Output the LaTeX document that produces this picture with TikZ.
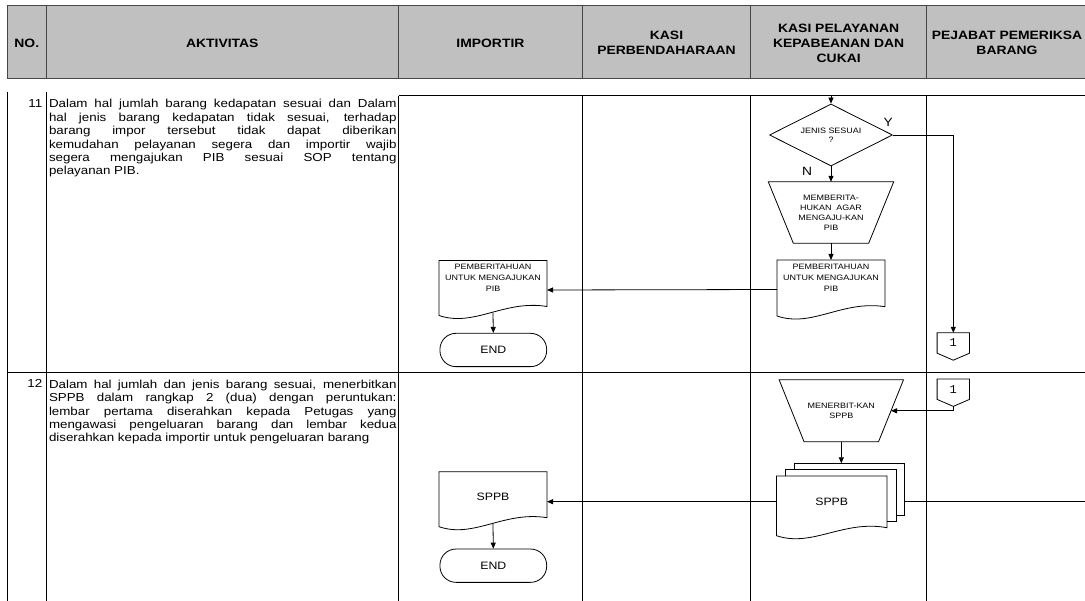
\documentclass[tikz,border=0pt]{standalone}
\usepackage{fontspec}
\setmainfont{Liberation Sans}[FakeStretch=1.15]
\newfontfamily\connfont{Liberation Mono}
\usetikzlibrary{shapes.geometric,arrows.meta,calc,positioning}
\definecolor{headgray}{RGB}{192,192,192}
\definecolor{gridgray}{RGB}{70,70,70}
\tikzset{
    headtext/.style={align=center, font=\fontsize{12.1}{15}\selectfont\bfseries, inner sep=0pt},
    bodytext/.style={anchor=north west, text width=347.5pt, align=justify, font=\fontsize{11.6}{13.4}\selectfont, inner sep=0pt},
    numtext/.style={anchor=north east, font=\fontsize{11.6}{13.4}\selectfont, inner sep=0pt},
    decision/.style={diamond, draw, line width=0.8pt, aspect=2, minimum width=123pt, minimum height=62pt, inner sep=0pt, align=center, font=\fontsize{7.8}{9}\selectfont},
    opbox/.style={minimum width=125pt, minimum height=61pt, inner sep=0pt, align=center, font=\fontsize{7.8}{10}\selectfont},
    doctext/.style={anchor=north, minimum width=107.6pt, inner xsep=0pt, inner ysep=3.5pt, align=center, font=\fontsize{7.8}{11}\selectfont},
    endbox/.style={draw, line width=0.8pt, rounded corners=16pt, minimum width=106.7pt, minimum height=33.3pt, font=\fontsize{10.7}{12}\selectfont},
    conn/.style={minimum width=32pt, minimum height=20pt, inner sep=0pt, font=\connfont\fontsize{12}{12}\selectfont},
    shapeline/.style={draw, line width=0.8pt},
    gridline/.style={line width=1pt},
    arr/.style={-{Triangle[length=6pt,width=5pt]}, line width=0.8pt},
    yn/.style={font=\fontsize{12}{12}\selectfont, inner sep=0pt}
}
% document outline: node, height, rise of right corner
\newcommand{\docframe}[3]{%
  \path[shapeline] (#1.north west) -- (#1.north east) -- ($(#1.north east)+(0,#2-#3)$)
    .. controls ($(#1.north west)!0.604!(#1.north east)+(0,#2-16)$) and ($(#1.north west)!0.325!(#1.north east)+(0,#2+12)$) .. ($(#1.north west)+(0,#2)$) -- cycle;
}
% manual operation outline, narrow at the bottom
\newcommand{\opframe}[1]{%
  \path[shapeline] (#1.north west) -- (#1.north east) -- ($(#1.south east)+(-25,0)$) -- ($(#1.south west)+(25,0)$) -- cycle;
  \coordinate (#1-e) at ($(#1.east)+(-12.5,0)$);
}
% off-page connector outline
\newcommand{\offpage}[1]{%
  \path[shapeline] (#1.north west) -- (#1.north east) -- (#1.south east) -- ($(#1.south)+(0,7)$) coordinate (#1-tip) -- (#1.south west) -- cycle;
}
\begin{document}
\begin{tikzpicture}[x=1pt, y=-1pt]
\useasboundingbox (0,0) rectangle (1085,601);
\clip (0,0) rectangle (1085,601);

% header
\draw[fill=headgray, draw=gridgray, gridline] (7.5,6) rectangle (1095,79);
\foreach \x in {46,398.5,582.3,750.7,926.7}
  \draw[gridgray, gridline] (\x,6) -- (\x,79);
\node[headtext] (hNo) at (26.75,43) {NO.};
\node[headtext] (hAkt) at (222.3,43) {AKTIVITAS};
\node[headtext] (hImp) at (490.4,43) {IMPORTIR};
\node[headtext] (hKasiP) at (666.5,43) {KASI\\PERBENDAHARAAN};
\node[headtext] (hKasiK) at (838.7,43) {KASI PELAYANAN\\KEPABEANAN DAN\\CUKAI};
\node[headtext] (hPjb) at (1007,43) {PEJABAT PEMERIKSA\\BARANG};

% body grid
\foreach \x in {7.5,46}
  \draw[gridline] (\x,92) -- (\x,601);
\foreach \x in {398.5,582.3,750.7,926.7}
  \draw[gridline] (\x,96) -- (\x,601);
\draw[gridline] (398.5,96) -- (1095,96);
\draw[gridline] (7.5,372.5) -- (1095,372.5);

% step 11
\node[numtext] (no11) at (42.5,99.2) {11};
\node[bodytext] (act11) at (48.8,99.2) {Dalam hal jumlah barang kedapatan sesuai dan Dalam\linebreak
hal jenis barang kedapatan tidak sesuai, terhadap\linebreak
barang impor tersebut tidak dapat diberikan\linebreak
kemudahan pelayanan segera dan importir wajib\linebreak
segera mengajukan PIB sesuai SOP tentang\linebreak
pelayanan PIB.};

\coordinate (in11) at (831,95.5);
\node[decision] (dec) at (831,135) {JENIS SESUAI\\?};
\node[yn] (lblY) at ($(dec.east)+(-4.7,-13)$) {Y};
\node[yn] (lblN) at ($(dec.south)+(-24,5)$) {N};
\node[opbox] (tz1) at (831,212.5) {MEMBERITA-\\HUKAN\ \ AGAR\\MENGAJU-KAN\\PIB};
\opframe{tz1}
\node[doctext] (pibK) at (831,260) {PEMBERITAHUAN\\UNTUK MENGAJUKAN\\PIB};
\docframe{pibK}{56}{9.3}
\node[doctext] (pibI) at (493,260.5) {PEMBERITAHUAN\\UNTUK MENGAJUKAN\\PIB};
\docframe{pibI}{55}{9}
\node[endbox] (end1) at (493.3,350) {END};
\node[conn] (off1) at (953.3,343) {1};
\offpage{off1}

\draw[arr] (in11) -- (dec.north);
\draw[arr] (dec.south) -- (tz1.north);
\draw[arr] (tz1.south) -- (pibK.north);
\draw[arr] (dec.east) -| (off1.north);
\draw[arr] ($(pibK.north west)+(0,29.5)$) -- ($(pibI.north east)+(0,29.5)$);
\draw[arr] ($(pibI.north)+(0,52.3)$) -- (end1.north);

% step 12
\node[numtext] (no12) at (42.5,379.7) {12};
\node[bodytext] (act12) at (48.8,379.7) {Dalam hal jumlah dan jenis barang sesuai, menerbitkan\linebreak
SPPB dalam rangkap 2 (dua) dengan peruntukan:\linebreak
lembar pertama diserahkan kepada Petugas yang\linebreak
mengawasi pengeluaran barang dan lembar kedua\linebreak
diserahkan kepada importir untuk pengeluaran barang};

\node[conn] (off2) at (953.3,389.2) {1};
\offpage{off2}
\node[opbox, minimum width=124pt, minimum height=61.7pt] (tz2) at (841.3,410.8) {MENERBIT-KAN\\SPPB};
\opframe{tz2}
\node[doctext, minimum width=110pt, inner ysep=21.5pt, font=\fontsize{10.7}{12}\selectfont] (sppbK) at (831.7,476) {SPPB};
\path[shapeline] ($(sppbK.north west)+(9.3,0)$) -- ++(0,-6.7) -- ($(sppbK.north east)+(9,-6.7)$) -- ++(0,51.7) -- ($(sppbK.north east)+(0,45)$);
\path[shapeline] ($(sppbK.north west)+(18.3,-6.7)$) -- ++(0,-6) -- ($(sppbK.north east)+(17.6,-12.7)$) coordinate (sppbBack) -- ++(0,51.7) -- ++(-8.6,0);
\docframe{sppbK}{59.7}{8}
\node[doctext, inner ysep=21.5pt, font=\fontsize{10.7}{12}\selectfont] (sppbI) at (493,471.7) {SPPB};
\docframe{sppbI}{55}{9}
\node[endbox] (end2) at (493.3,565.7) {END};
\coordinate (msg12) at (1095,501.7);

\draw[arr] (off2-tip) |- (tz2-e);
\draw[arr] (tz2.south) -- (tz2.south |- sppbBack);
\draw[line width=0.8pt] (sppbBack |- msg12) -- (msg12);
\draw[arr] (sppbK.west |- msg12) -- (sppbI.east |- msg12);
\draw[arr] ($(sppbI.north)+(0,52.3)$) -- (end2.north);

\end{tikzpicture}
\end{document}
